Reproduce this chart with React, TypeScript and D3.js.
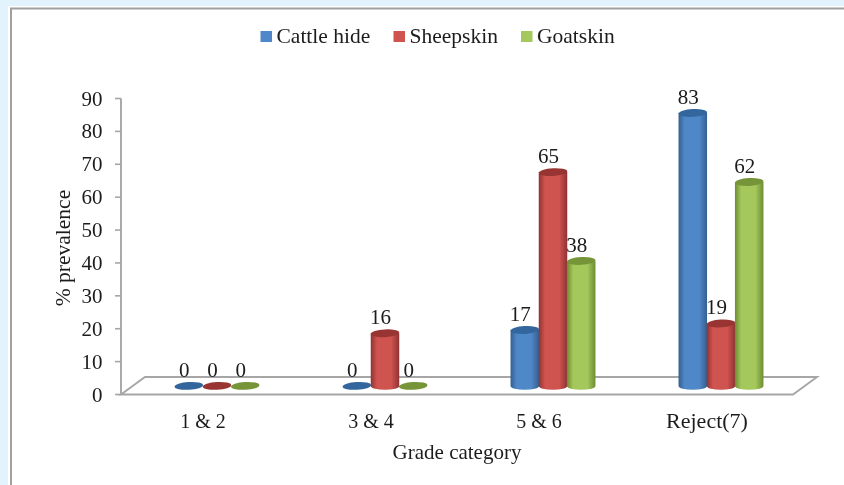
import React from "react";
import * as d3 from "d3";

const categories = ["1 & 2", "3 & 4", "5 & 6", "Reject(7)"];
const seriesNames = ["Cattle hide", "Sheepskin", "Goatskin"];
const cattleHide = [0, 0, 17, 83];
const sheepskin = [0, 16, 65, 19];
const goatskin = [0, 0, 38, 62];
const yTicks = [0, 10, 20, 30, 40, 50, 60, 70, 80, 90];

const seriesValues = [cattleHide, sheepskin, goatskin];
const colors = [
  { top: "#31669c", edge: "#345f90", mid: "#5088c8" },
  { top: "#983633", edge: "#8f3331", mid: "#cf5350" },
  { top: "#769538", edge: "#6f8c34", mid: "#a4c85c" },
];

const serif = "'Liberation Serif', 'Times New Roman', serif";
const textColor = "#1c1c1c";
const lineColor = "#a6a6a6";

export default function App() {
  const y = d3.scaleLinear().domain([0, 90]).range([394.5, 98.5]);
  const x0 = d3.scaleBand().domain(categories).range([145, 817]);
  const groupCenters = categories.map((c) => (x0(c) as number) + x0.bandwidth() / 2);
  const barW = 28.5;
  const rx = barW / 2;
  const ry = 3.9;
  const depth = 8.6;
  const barX = (ci: number, si: number) => groupCenters[ci] - 12 + (si - 1) * 28.2;
  const tilt = (cx: number, cy: number) => `rotate(-3 ${cx} ${cy})`;
  return (
    <svg width={844} height={485} style={{ position: "fixed", left: 0, top: 0, display: "block" }}>
      <defs>
        {colors.map((c, i) => (
          <linearGradient id={`cyl${i}`} key={i} x1="0" x2="1" y1="0" y2="0">
            <stop offset="0" stopColor={c.edge} />
            <stop offset="0.22" stopColor={c.mid} />
            <stop offset="0.72" stopColor={c.mid} />
            <stop offset="1" stopColor={c.edge} />
          </linearGradient>
        ))}
        <filter id="soft" x="-5%" y="-5%" width="110%" height="110%">
          <feGaussianBlur stdDeviation="0.45" />
        </filter>
      </defs>
      <rect x={0} y={0} width={844} height={485} fill="#e3f3fd" />
      <rect x={8} y={6} width={840} height={490} fill="#ffffff" />
      <rect x={11} y={8.5} width={840} height={490} fill="#ffffff" stroke="#a0a0a0" strokeWidth={2} />
      <g filter="url(#soft)">
        {seriesNames.map((s, i) => {
          const lx = [260.5, 393.5, 521][i];
          return (
            <g key={s}>
              <rect x={lx} y={31} width={11.5} height={11} fill={colors[i].mid} />
              <text x={lx + 16} y={43} fontFamily={serif} fontSize={21.5} fill={textColor}>{s}</text>
            </g>
          );
        })}
        <path
          d={`M${x0.range()[0] - 24},${y(0)}L${x0.range()[0]},${y(0) - 17.5}H${x0.range()[1]}L${x0.range()[1] - 24},${y(0)}Z`}
          fill="#fff"
          stroke={lineColor}
          strokeWidth={1.9}
        />
        <line x1={121} x2={121} y1={y(90)} y2={y(0)} stroke={lineColor} strokeWidth={1.9} />
        {yTicks.map((t) => (
          <g key={t}>
            <line x1={115} x2={121} y1={y(t)} y2={y(t)} stroke={lineColor} strokeWidth={1.6} />
            <text x={102.5} y={y(t) + 7} textAnchor="end" fontFamily={serif} fontSize={21} fill={textColor}>{t}</text>
          </g>
        ))}
        {categories.map((c, ci) => (
          <g key={c}>
            {seriesNames.map((s, si) => {
              const v = seriesValues[si][ci];
              const cx = barX(ci, si);
              const base = y(0) - depth;
              const top = y(v) - depth;
              if (v === 0) {
                return <ellipse key={s} cx={cx} cy={base} rx={rx} ry={ry} fill={colors[si].top} transform={tilt(cx, base)} />;
              }
              return (
                <g key={s}>
                  <path
                    d={`M${cx - rx},${top}V${base}A${rx},${ry} 0 0 0 ${cx + rx},${base}V${top}Z`}
                    fill={`url(#cyl${si})`}
                  />
                  <ellipse cx={cx} cy={top} rx={rx} ry={ry} fill={colors[si].top} transform={tilt(cx, top)} />
                </g>
              );
            })}
          </g>
        ))}
        {categories.map((c, ci) =>
          seriesNames.map((s, si) => {
            const v = seriesValues[si][ci];
            const lx = barX(ci, si) - 4.5;
            return (
              <text key={s + c} x={lx} y={y(v) - depth - 9} textAnchor="middle" fontFamily={serif} fontSize={21} fill={textColor}>{v}</text>
            );
          })
        )}
        {categories.map((c, ci) => (
          <text key={c} x={groupCenters[ci] - 26} y={428} textAnchor="middle" fontFamily={serif} fontSize={c.length > 5 ? 22 : 20} fill={textColor}>{c}</text>
        ))}
        <text x={457} y={458.5} textAnchor="middle" fontFamily={serif} fontSize={21} fill={textColor}>Grade category</text>
        <text transform={`translate(70,248) rotate(-90)`} textAnchor="middle" fontFamily={serif} fontSize={21.5} fill={textColor}>% prevalence</text>
      </g>
    </svg>
  );
}
